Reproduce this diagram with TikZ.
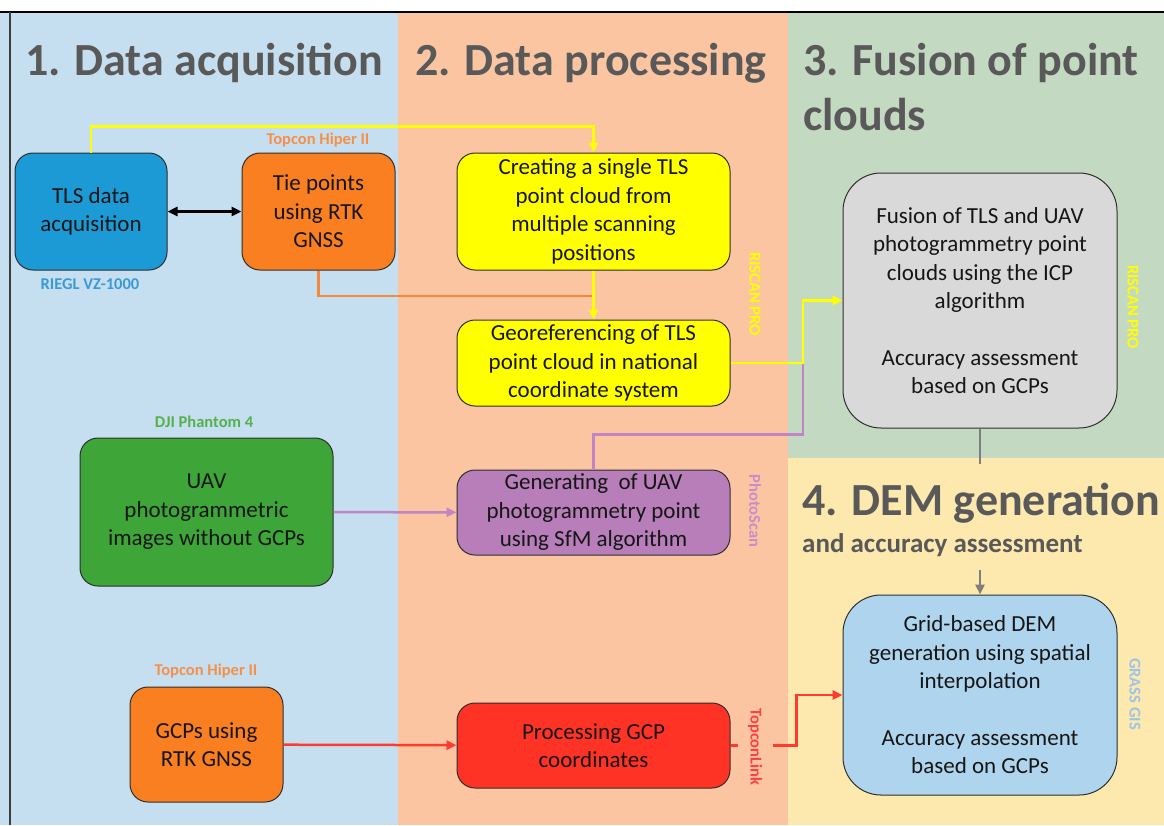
\documentclass[tikz,border=0pt]{standalone}
\usepackage{fontspec}
\setmainfont{Carlito}
\usetikzlibrary{arrows.meta}

% panel backgrounds
\definecolor{panelblue}{HTML}{C6DFF0}
\definecolor{panelorange}{HTML}{FBC5A2}
\definecolor{panelgreen}{HTML}{C4D9C1}
\definecolor{panelyellow}{HTML}{FDE9AE}
% box fills
\definecolor{tlsblue}{HTML}{1C9AD6}
\definecolor{gnssorange}{HTML}{F97F20}
\definecolor{procyellow}{HTML}{FFFF00}
\definecolor{sfmpurple}{HTML}{B77EBA}
\definecolor{uavgreen}{HTML}{3EA638}
\definecolor{gcpred}{HTML}{FF3226}
\definecolor{fusiongray}{HTML}{D9D9D9}
\definecolor{demblue}{HTML}{AFD5EE}
% lines and text
\definecolor{boxline}{HTML}{2E2E2E}
\definecolor{bodytext}{HTML}{161616}
\definecolor{titlegray}{HTML}{595959}
\definecolor{lineorange}{HTML}{F5883A}
\definecolor{linepurple}{HTML}{BF86C3}
\definecolor{linered}{HTML}{FF3B30}
\definecolor{linegray}{HTML}{7F7F7F}
% tool labels
\definecolor{lbltopcon}{HTML}{F4904A}
\definecolor{lblriegl}{HTML}{3B9AD6}
\definecolor{lbldji}{HTML}{55B14A}
\definecolor{lblphoto}{HTML}{C98DCB}
\definecolor{lbltopconlink}{HTML}{FF4040}
\definecolor{lblgrass}{HTML}{9DC3E6}

\begin{document}
\begin{tikzpicture}[x=1pt,y=-1pt,
  stepbox/.style={draw=boxline, line width=1pt, rounded corners=18pt,
    align=center, inner sep=0pt, text=bodytext,
    font=\fontsize{23}{28.5}\selectfont},
  bigstepbox/.style={stepbox, rounded corners=38pt},
  toollabel/.style={font=\bfseries\fontsize{16.5}{18}\selectfont, inner sep=0pt},
  stagetitle/.style={anchor=base west, inner sep=0pt, text=titlegray,
    font=\bfseries\fontsize{46}{55}\selectfont},
  flowline/.style={line width=2.5pt},
  flowtip/.style={-{Triangle[length=10pt,width=9pt]}}
]
\useasboundingbox (0,0) rectangle (1164,825);

% stage panels
\fill[white] (0,0) rectangle (1164,12);
\fill[panelblue] (0,12) rectangle (398,825);
\fill[panelorange] (398,12) rectangle (788,825);
\fill[panelgreen] (788,12) rectangle (1164,458);
\fill[panelyellow] (788,458) rectangle (1164,825);
\draw[black, line width=1.5pt] (0,12) -- (1164,12);
\draw[titlegray!70!black, line width=1.5pt] (10,12) -- (10,825);

% stage titles
\node[stagetitle] (t1) at (25,75) {1. Data acquisition};
\node[stagetitle] (t2) at (415,75) {2. Data processing};
\node[stagetitle] (t3a) at (803,75) {3. Fusion of point};
\node[stagetitle] (t3b) at (803,130) {clouds};
\node[stagetitle] (t4a) at (802,515) {4. DEM generation};
\node[stagetitle, font=\bfseries\fontsize{27}{32}\selectfont] (t4b) at (802,552) {and accuracy assessment};

% process boxes
\node[stepbox, fill=tlsblue, minimum width=152, minimum height=117] (tls) at (91,211.5) {TLS data\\acquisition};
\node[stepbox, fill=gnssorange, minimum width=153, minimum height=117] (tie) at (318.5,211.5) {Tie points\\using RTK\\GNSS};
\node[stepbox, fill=procyellow, minimum width=273, minimum height=117] (create) at (593.5,211.5) {Creating a single TLS\\point cloud from\\multiple scanning\\positions};
\node[stepbox, fill=procyellow, minimum width=273, minimum height=86] (geo) at (593.5,363) {Georeferencing of TLS\\point cloud in national\\coordinate system};
\node[stepbox, fill=uavgreen, minimum width=253, minimum height=148] (uav) at (206.5,512) {UAV\\photogrammetric\\images without GCPs};
\node[stepbox, fill=sfmpurple, minimum width=273, minimum height=85] (gen) at (593.5,512.5) {Generating~ of UAV\\photogrammetry point\\using SfM algorithm};
\node[stepbox, fill=gnssorange, minimum width=153, minimum height=115] (gcp) at (206.5,744.5) {GCPs using\\RTK GNSS};
\node[stepbox, fill=gcpred, minimum width=273, minimum height=85] (proc) at (593.5,745.5) {Processing GCP\\coordinates};
\node[bigstepbox, fill=fusiongray, minimum width=274, minimum height=255] (fusion) at (980,300.5) {Fusion of TLS and UAV\\photogrammetry point\\clouds using the ICP\\algorithm\\[28pt]Accuracy assessment\\based on GCPs};
\node[bigstepbox, fill=demblue, minimum width=274, minimum height=200] (dem) at (980,695) {Grid-based DEM\\generation using spatial\\interpolation\\[28pt]Accuracy assessment\\based on GCPs};

% instrument labels
\node[toollabel, text=lbltopcon] (lhiper1) at (318,140) {Topcon Hiper II};
\node[toollabel, text=lblriegl] (lriegl) at (90,284) {RIEGL VZ-1000};
\node[toollabel, text=lbldji] (ldji) at (204,422) {DJI Phantom 4};
\node[toollabel, text=lbltopcon] (lhiper2) at (206,671) {Topcon Hiper II};

% junction points
\coordinate (j1) at (592,296);
\coordinate (j3) at (803,363);
\coordinate (demin) at (980,570);

% connectors
\draw[flowline, black, {Triangle[length=10pt,width=9pt]}-{Triangle[length=10pt,width=9pt]}] (tls) -- (tie);
\draw[flowline, procyellow, flowtip] (tls.north) -- ++(0,-26) -| (create.north);
\draw[flowline, lineorange] (tie.south) |- (j1);
\draw[flowline, procyellow, flowtip] (create.south) -- (geo.north);
\draw[flowline, linepurple] (gen.north) -- ++(0,-35) -| (j3);
\draw[flowline, procyellow, flowtip] (geo.east) -- (j3) |- (fusion.west);
\draw[flowline, linepurple, flowtip] (uav) -- (gen);
\draw[flowline, linered, flowtip] (gcp) -- (proc);
\draw[flowline, linered, flowtip] (proc.east) -- ++(66,0) |- (dem.west);
\draw[flowline, linegray] (fusion.south) -- ++(0,35);
\draw[flowline, linegray, flowtip] (demin) -- (dem.north);

% software labels
\node[toollabel, text=procyellow, rotate=-90] (lriscan1) at (755,294) {RISCAN PRO};
\node[toollabel, text=procyellow, rotate=-90] (lriscan2) at (1133,307) {RISCAN PRO};
\node[toollabel, text=lblphoto, rotate=-90] (lphoto) at (755,511) {PhotoScan};
\node[toollabel, text=lbltopconlink, rotate=-90, fill=panelorange, minimum height=35] (ltlink) at (755,747) {TopconLink};
\node[toollabel, text=lblgrass, rotate=-90] (lgrass) at (1135,694) {GRASS GIS};
\end{tikzpicture}
\end{document}
